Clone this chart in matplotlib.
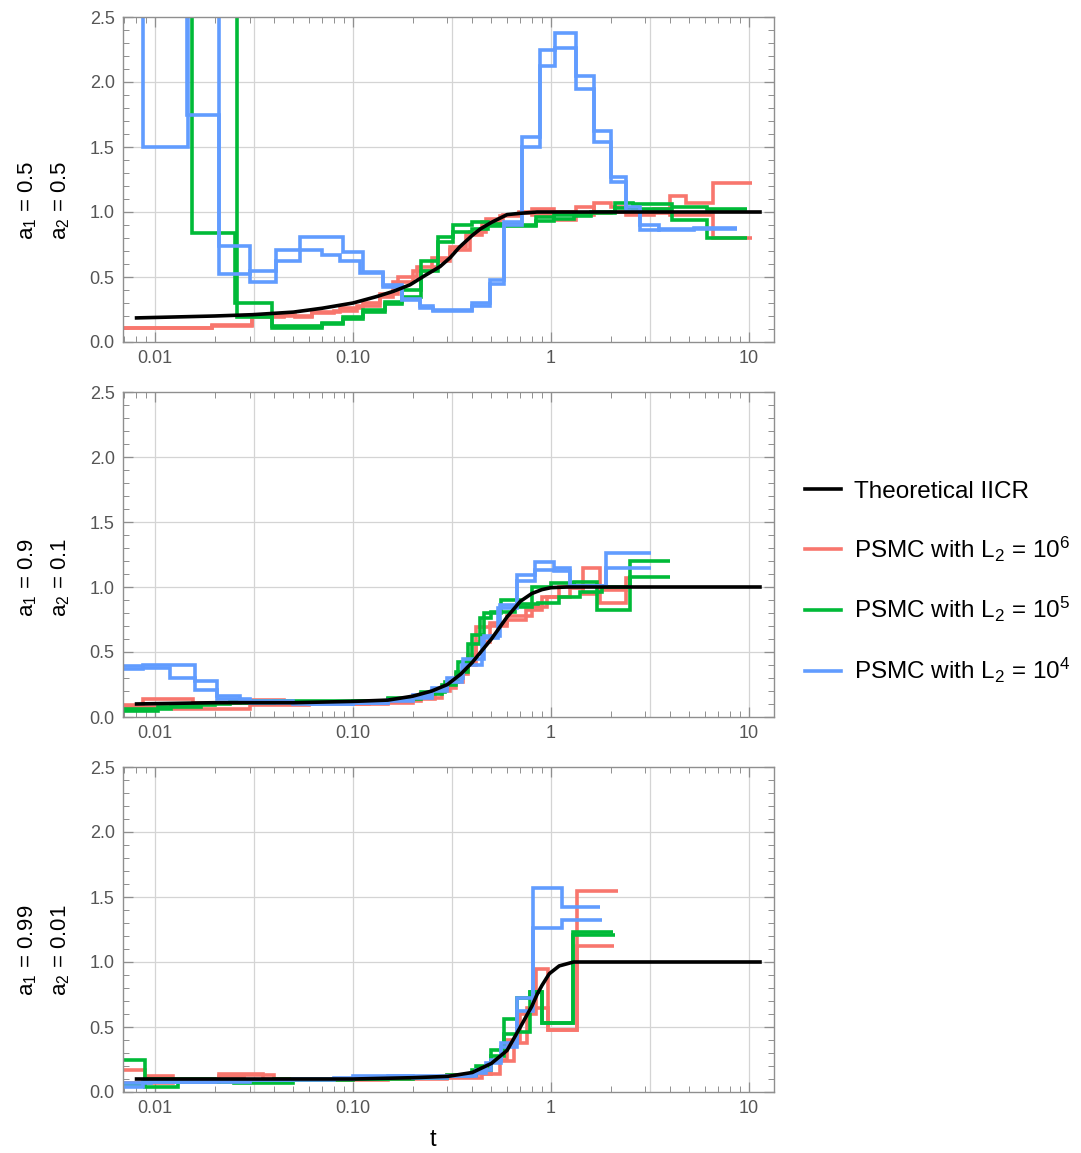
import matplotlib
matplotlib.use("Agg")
import matplotlib.pyplot as plt
from matplotlib.lines import Line2D
from matplotlib.ticker import FixedLocator, NullFormatter, MultipleLocator, LogLocator

plt.rcParams['font.family'] = ['Liberation Sans', 'DejaVu Sans']
plt.rcParams['mathtext.fontset'] = 'custom'
plt.rcParams['mathtext.rm'] = 'Liberation Sans'

# ---------------- data ----------------
row_labels = [("a$\\mathregular{_1}$ = 0.5", "a$\\mathregular{_2}$ = 0.5"),
              ("a$\\mathregular{_1}$ = 0.9", "a$\\mathregular{_2}$ = 0.1"),
              ("a$\\mathregular{_1}$ = 0.99", "a$\\mathregular{_2}$ = 0.01")]

# theoretical IICR curves (t, value)
theo1_t = [0.0079, 0.02, 0.031, 0.05, 0.07, 0.1, 0.132, 0.16, 0.194, 0.23, 0.275, 0.31, 0.345, 0.4, 0.44, 0.5, 0.6, 0.7, 0.85, 1.0, 11.6]
theo1_v = [0.185, 0.20, 0.21, 0.23, 0.26, 0.30, 0.35, 0.39, 0.44, 0.51, 0.58, 0.65, 0.73, 0.82, 0.87, 0.92, 0.98, 0.99, 1.0, 1.0, 1.0]
theo2_t = [0.0079, 0.02, 0.05, 0.1, 0.15, 0.2, 0.25, 0.3, 0.35, 0.4, 0.5, 0.6, 0.7, 0.8, 0.9, 1.0, 1.2, 11.6]
theo2_v = [0.10, 0.11, 0.11, 0.12, 0.13, 0.16, 0.20, 0.25, 0.33, 0.42, 0.60, 0.77, 0.89, 0.95, 0.98, 0.995, 1.0, 1.0]
theo3_t = [0.0079, 0.05, 0.1, 0.2, 0.3, 0.4, 0.5, 0.6, 0.7, 0.8, 0.85, 0.9, 0.98, 1.1, 1.3, 11.6]
theo3_v = [0.10, 0.10, 0.10, 0.11, 0.12, 0.15, 0.22, 0.32, 0.50, 0.66, 0.75, 0.82, 0.91, 0.97, 1.0, 1.0]

# ---- panel 1 PSMC step curves (edges, values) ----
p1_red_a_t = [0.0069, 0.0194, 0.031, 0.051, 0.062, 0.086, 0.112, 0.137, 0.169, 0.21, 0.27, 0.31, 0.39, 0.47, 0.57, 0.69, 0.80, 1.03, 1.34, 1.65, 2.0, 2.4, 3.3, 4.0, 4.8, 6.6, 10.3]
p1_red_a_v = [0.107, 0.13, 0.21, 0.19, 0.23, 0.26, 0.30, 0.37, 0.50, 0.58, 0.62, 0.71, 0.85, 0.95, 0.98, 1.0, 1.02, 0.94, 0.98, 1.07, 1.04, 0.98, 1.02, 1.12, 1.07, 1.22]
p1_red_b_t = [0.0069, 0.0194, 0.031, 0.045, 0.062, 0.08, 0.105, 0.137, 0.16, 0.2, 0.25, 0.31, 0.37, 0.45, 0.55, 0.69, 0.80, 1.03, 1.34, 1.65, 2.0, 2.4, 3.3, 4.0, 4.8, 6.6, 10.3]
p1_red_b_v = [0.105, 0.12, 0.19, 0.20, 0.22, 0.24, 0.28, 0.35, 0.46, 0.55, 0.65, 0.73, 0.82, 0.92, 0.97, 0.99, 0.98, 1.0, 1.04, 0.99, 1.0, 1.0, 0.99, 0.98, 0.98, 0.80]
p1_green_a_t = [0.0069, 0.0154, 0.0253, 0.039, 0.07, 0.089, 0.112, 0.145, 0.177, 0.22, 0.27, 0.32, 0.40, 0.48, 0.69, 0.84, 1.03, 1.3, 1.6, 2.1, 2.6, 4.1, 6.1, 9.8]
p1_green_a_v = [3.0, 0.84, 0.30, 0.12, 0.15, 0.19, 0.25, 0.31, 0.40, 0.62, 0.81, 0.90, 0.92, 0.91, 0.90, 0.93, 0.98, 0.99, 1.0, 1.07, 1.06, 1.04, 1.02]
p1_green_b_t = [0.0069, 0.026, 0.039, 0.07, 0.089, 0.112, 0.145, 0.177, 0.22, 0.27, 0.32, 0.40, 0.48, 0.69, 0.84, 1.03, 1.3, 1.6, 2.1, 2.6, 4.1, 6.1, 9.8]
p1_green_b_v = [3.0, 0.19, 0.11, 0.14, 0.18, 0.23, 0.29, 0.35, 0.55, 0.77, 0.85, 0.87, 0.89, 0.89, 0.96, 0.95, 0.97, 0.99, 1.03, 1.02, 0.94, 0.80]
p1_blue_a_t = [0.0069, 0.0087, 0.0147, 0.021, 0.030, 0.041, 0.054, 0.089, 0.112, 0.142, 0.177, 0.218, 0.254, 0.40, 0.49, 0.58, 0.71, 0.88, 1.05, 1.34, 1.65, 2.0, 2.4, 2.8, 3.5, 5.3, 8.7]
p1_blue_a_v = [3.0, 1.5, 3.0, 0.74, 0.46, 0.71, 0.81, 0.69, 0.54, 0.42, 0.32, 0.26, 0.24, 0.30, 0.48, 0.90, 1.5, 2.12, 2.38, 2.05, 1.62, 1.27, 1.04, 0.90, 0.86, 0.88]
p1_blue_b_t = [0.0069, 0.0145, 0.021, 0.030, 0.041, 0.054, 0.07, 0.086, 0.108, 0.142, 0.177, 0.218, 0.254, 0.40, 0.49, 0.58, 0.71, 0.88, 1.05, 1.34, 1.65, 2.0, 2.4, 2.8, 3.5, 5.3, 8.7]
p1_blue_b_v = [3.0, 1.75, 0.52, 0.55, 0.62, 0.71, 0.67, 0.62, 0.53, 0.44, 0.33, 0.28, 0.25, 0.28, 0.45, 0.92, 1.58, 2.25, 2.26, 1.95, 1.54, 1.23, 1.01, 0.86, 0.87, 0.87]

# ---- panel 2 ----
p2_red_a_t = [0.0069, 0.0087, 0.0155, 0.027, 0.045, 0.08, 0.15, 0.22, 0.28, 0.33, 0.38, 0.42, 0.49, 0.6, 0.8, 0.95, 1.25, 1.45, 1.77, 2.4, 2.55]
p2_red_a_v = [0.09, 0.14, 0.11, 0.13, 0.11, 0.10, 0.12, 0.15, 0.22, 0.33, 0.48, 0.69, 0.72, 0.78, 0.85, 0.92, 0.99, 1.15, 0.98, 1.07]
p2_red_b_t = [0.0069, 0.0125, 0.03, 0.06, 0.12, 0.2, 0.26, 0.31, 0.36, 0.42, 0.49, 0.6, 0.75, 0.9, 1.1, 1.45, 1.77, 2.4, 2.55]
p2_red_b_v = [0.08, 0.06, 0.09, 0.10, 0.11, 0.14, 0.20, 0.27, 0.40, 0.58, 0.70, 0.75, 0.82, 0.92, 1.0, 0.95, 0.88, 1.0]
p2_green_a_t = [0.0069, 0.0103, 0.017, 0.024, 0.05, 0.1, 0.15, 0.22, 0.28, 0.33, 0.38, 0.44, 0.5, 0.66, 0.8, 1.0, 1.3, 1.7, 2.5, 4.0]
p2_green_a_v = [0.05, 0.08, 0.10, 0.12, 0.11, 0.12, 0.14, 0.18, 0.25, 0.35, 0.56, 0.76, 0.81, 0.85, 1.0, 1.03, 1.04, 0.82, 1.20]
p2_green_b_t = [0.0069, 0.012, 0.02, 0.04, 0.08, 0.15, 0.22, 0.29, 0.34, 0.4, 0.46, 0.56, 0.7, 0.86, 1.1, 1.4, 1.8, 2.5, 4.0]
p2_green_b_v = [0.06, 0.09, 0.11, 0.12, 0.12, 0.15, 0.19, 0.27, 0.42, 0.63, 0.80, 0.90, 0.87, 0.88, 0.92, 0.96, 1.0, 1.08]
p2_blue_a_t = [0.0069, 0.0087, 0.0159, 0.0206, 0.027, 0.05, 0.1, 0.15, 0.2, 0.25, 0.30, 0.355, 0.45, 0.54, 0.67, 0.83, 1.03, 1.25, 1.9, 3.2]
p2_blue_a_v = [0.37, 0.40, 0.28, 0.16, 0.12, 0.10, 0.11, 0.12, 0.15, 0.20, 0.27, 0.40, 0.61, 0.84, 1.09, 1.19, 1.15, 1.01, 1.26]
p2_blue_b_t = [0.0069, 0.0087, 0.0119, 0.0159, 0.0206, 0.03, 0.06, 0.1, 0.15, 0.2, 0.25, 0.30, 0.36, 0.46, 0.55, 0.67, 0.83, 1.03, 1.25, 1.9, 3.2]
p2_blue_b_v = [0.39, 0.38, 0.30, 0.21, 0.14, 0.11, 0.10, 0.11, 0.13, 0.17, 0.22, 0.30, 0.45, 0.62, 0.86, 1.05, 1.13, 1.12, 1.01, 1.15]

# ---- panel 3 ----
p3_red_a_t = [0.0069, 0.0089, 0.0123, 0.021, 0.035, 0.05, 0.1, 0.2, 0.3, 0.4, 0.5, 0.6, 0.7, 0.84, 0.96, 1.36, 2.17]
p3_red_a_v = [0.17, 0.12, 0.08, 0.14, 0.10, 0.09, 0.10, 0.11, 0.13, 0.14, 0.25, 0.40, 0.60, 0.95, 0.48, 1.55]
p3_red_b_t = [0.0069, 0.0123, 0.021, 0.028, 0.04, 0.07, 0.15, 0.3, 0.45, 0.55, 0.65, 0.76, 0.84, 0.96, 1.36, 2.08]
p3_red_b_v = [0.07, 0.08, 0.12, 0.13, 0.10, 0.09, 0.10, 0.11, 0.14, 0.24, 0.38, 0.65, 0.65, 0.48, 1.12]
p3_green_a_t = [0.0069, 0.0089, 0.013, 0.025, 0.05, 0.1, 0.2, 0.3, 0.4, 0.5, 0.58, 0.67, 0.78, 0.9, 1.29, 2.06]
p3_green_a_v = [0.25, 0.04, 0.08, 0.07, 0.09, 0.10, 0.11, 0.12, 0.17, 0.28, 0.45, 0.46, 0.77, 0.53, 1.23]
p3_green_b_t = [0.0069, 0.0089, 0.02, 0.04, 0.08, 0.15, 0.3, 0.42, 0.5, 0.58, 0.67, 0.78, 0.9, 1.29, 2.1]
p3_green_b_v = [0.06, 0.10, 0.09, 0.10, 0.10, 0.11, 0.13, 0.20, 0.32, 0.56, 0.72, 0.77, 0.53, 1.21]
p3_blue_a_t = [0.0069, 0.0087, 0.02, 0.05, 0.1, 0.2, 0.3, 0.4, 0.47, 0.56, 0.67, 0.81, 1.13, 1.77]
p3_blue_a_v = [0.04, 0.08, 0.09, 0.10, 0.12, 0.11, 0.12, 0.15, 0.22, 0.38, 0.72, 1.57, 1.42]
p3_blue_b_t = [0.0069, 0.0095, 0.03, 0.08, 0.15, 0.3, 0.42, 0.5, 0.56, 0.67, 0.81, 1.13, 1.8]
p3_blue_b_v = [0.07, 0.08, 0.09, 0.11, 0.12, 0.12, 0.17, 0.25, 0.35, 0.62, 1.26, 1.32]

x_ticks = [0.01, 0.1, 1, 10]
x_tick_labels = ["0.01", "0.10", "1", "10"]
x_grid = [0.01, 0.0316, 0.1, 0.316, 1, 3.16, 10]
y_ticks = [0.0, 0.5, 1.0, 1.5, 2.0, 2.5]
y_tick_labels = ["0.0", "0.5", "1.0", "1.5", "2.0", "2.5"]

legend_labels = ["Theoretical IICR",
                 "PSMC with $\\mathregular{L_2}$ = $\\mathregular{10^6}$",
                 "PSMC with $\\mathregular{L_2}$ = $\\mathregular{10^5}$",
                 "PSMC with $\\mathregular{L_2}$ = $\\mathregular{10^4}$"]

RED, GREEN, BLUE = "#F8766D", "#00BA38", "#619CFF"

panels = [
    dict(theo=(theo1_t, theo1_v),
         red=[(p1_red_a_t, p1_red_a_v), (p1_red_b_t, p1_red_b_v)],
         green=[(p1_green_a_t, p1_green_a_v), (p1_green_b_t, p1_green_b_v)],
         blue=[(p1_blue_a_t, p1_blue_a_v), (p1_blue_b_t, p1_blue_b_v)]),
    dict(theo=(theo2_t, theo2_v),
         red=[(p2_red_a_t, p2_red_a_v), (p2_red_b_t, p2_red_b_v)],
         green=[(p2_green_a_t, p2_green_a_v), (p2_green_b_t, p2_green_b_v)],
         blue=[(p2_blue_a_t, p2_blue_a_v), (p2_blue_b_t, p2_blue_b_v)]),
    dict(theo=(theo3_t, theo3_v),
         red=[(p3_red_a_t, p3_red_a_v), (p3_red_b_t, p3_red_b_v)],
         green=[(p3_green_a_t, p3_green_a_v), (p3_green_b_t, p3_green_b_v)],
         blue=[(p3_blue_a_t, p3_blue_a_v), (p3_blue_b_t, p3_blue_b_v)]),
]

# ---------------- figure ----------------
W, H = 1081, 1153
fig = plt.figure(figsize=(W / 100, H / 100), dpi=100)

ax_left, ax_w, ax_h = 123 / W, 651 / W, 325 / H
ax_tops = [17, 392, 767]
label_centers = [200, 577, 950]
frame_col = "#8f8f8f"
grid_col = "#d4d4d4"
LW = 2.6

for i, p in enumerate(panels):
    bottom = 1 - (ax_tops[i] + 325) / H
    ax = fig.add_axes([ax_left, bottom, ax_w, ax_h])
    ax.set_xscale("log")
    ax.set_xlim(0.00689, 13.37)
    ax.set_ylim(0, 2.5)

    for g in x_grid:
        ax.axvline(g, color=grid_col, lw=0.9, zorder=0)
    for g in y_ticks[1:-1]:
        ax.axhline(g, color=grid_col, lw=0.9, zorder=0)

    for key, col in (("red", RED), ("green", GREEN), ("blue", BLUE)):
        for edges, vals in p[key]:
            ax.stairs(vals, edges, baseline=None, color=col, lw=LW, zorder=2)
    ax.plot(p["theo"][0], p["theo"][1], color="black", lw=LW, zorder=3,
            solid_capstyle="butt")

    ax.xaxis.set_major_locator(FixedLocator(x_ticks))
    ax.set_xticklabels(x_tick_labels)
    ax.xaxis.set_minor_locator(LogLocator(base=10, subs=range(2, 10)))
    ax.xaxis.set_minor_formatter(NullFormatter())
    ax.yaxis.set_major_locator(FixedLocator(y_ticks))
    ax.set_yticklabels(y_tick_labels)
    ax.yaxis.set_minor_locator(MultipleLocator(0.1))

    ax.tick_params(which="both", direction="in", top=True, right=True,
                   color=frame_col, labelcolor="#555555", labelsize=13)
    ax.tick_params(which="major", length=7, width=0.9, pad=6)
    ax.tick_params(which="minor", length=4, width=0.7)
    for s in ax.spines.values():
        s.set_color(frame_col)
        s.set_linewidth(1.0)

    yc = 1 - label_centers[i] / H
    fig.text(28 / W, yc, row_labels[i][0], rotation=90, ha="center", va="center", fontsize=16)
    fig.text(61 / W, yc, row_labels[i][1], rotation=90, ha="center", va="center", fontsize=16)

fig.text(433 / W, 1 - 1140 / H, "t", ha="center", va="center", fontsize=17)

handles = [Line2D([], [], color=c, lw=LW) for c in ("black", RED, GREEN, BLUE)]
fig.legend(handles, legend_labels, loc="center left", bbox_to_anchor=(805 / W, 1 - 583 / H),
           frameon=False, fontsize=17.5, handlelength=1.5, handletextpad=0.5,
           labelspacing=1.3, borderpad=0, borderaxespad=0)

fig.savefig("out.png", dpi=100)
